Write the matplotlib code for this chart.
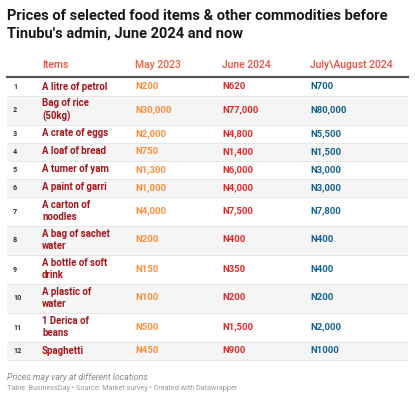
import matplotlib
matplotlib.use("Agg")
import matplotlib.pyplot as plt
from matplotlib.patches import Rectangle

title = "Prices of selected food items & other commodities before\nTinubu's admin, June 2024 and now"
headers = ["Items", "May 2023", "June 2024", "July\\August 2024"]
row_nums = ["1", "2", "3", "4", "5", "6", "7", "8", "9", "10", "11", "12"]
items = ["A litre of petrol", "Bag of rice\n(50kg)", "A crate of eggs", "A loaf of bread",
         "A tumer of yam", "A paint of garri", "A carton of\nnoodles", "A bag of sachet\nwater",
         "A bottle of soft\ndrink", "A plastic of\nwater", "1 Derica of\nbeans", "Spaghetti"]
may_2023 = ["N200", "N30,000", "N2,000", "N750", "N1,300", "N1,000", "N4,000", "N200",
            "N150", "N100", "N500", "N450"]
june_2024 = ["N620", "N77,000", "N4,800", "N1,400", "N6,000", "N4,000", "N7,500", "N400",
             "N350", "N200", "N1,500", "N900"]
jul_aug_2024 = ["N700", "N80,000", "N5,500", "N1,500", "N3,000", "N3,000", "N7,800", "N400",
                "N400", "N200", "N2,000", "N1000"]
note = "Prices may vary at different locations"
source = "Table: BusinessDay \u2022 Source: Market survey \u2022 Created with Datawrapper"

W, H = 415, 400
fig = plt.figure(figsize=(W / 100, H / 100), dpi=100)
ax = fig.add_axes([0, 0, 1, 1])
ax.set_xlim(0, W)
ax.set_ylim(H, 0)
ax.axis("off")

FONT = "Roboto"
ax.text(7, 9, title, fontsize=10.5, fontweight="bold", family=FONT, color="#181818",
        va="top", ha="left", linespacing=1.32)

col_x = [42, 135, 222, 310]
hdr_colors = ["#ee4c42", "#f2603c", "#ee4c42", "#ee4c42"]
for x, h, c in zip(col_x, headers, hdr_colors):
    ax.text(x, 65, h, fontsize=7.5, family=FONT, fontweight="medium", color=c,
            va="center", ha="left")

left, right = 7, 408
y = 77.5
single_h, double_h = 18, 29
for i in range(len(items)):
    nlines = items[i].count("\n") + 1
    rh = single_h if nlines == 1 else double_h
    if i % 2 == 1:
        ax.add_patch(Rectangle((left, y), right - left, rh, facecolor="#f5f5f5", edgecolor="none", zorder=0))
    ax.plot([left, right], [y + rh, y + rh], color="#e3e3e3", lw=0.6, zorder=1)
    cy = y + rh / 2
    ax.text(13, cy + 0.5, row_nums[i], fontsize=5.2, fontweight="bold", family=FONT,
            color="#333333", va="center", ha="left")
    ax.text(col_x[0], cy, items[i], fontsize=6.9, fontweight="bold", family=FONT,
            color="#a3151b", va="center", ha="left", linespacing=1.3)
    ax.text(col_x[1], cy, may_2023[i], fontsize=6.8, fontweight="bold", family=FONT,
            color="#fd8d3c", va="center", ha="left")
    ax.text(col_x[2], cy, june_2024[i], fontsize=6.8, fontweight="bold", family=FONT,
            color="#e0292a", va="center", ha="left")
    ax.text(col_x[3], cy, jul_aug_2024[i], fontsize=6.8, fontweight="bold", family=FONT,
            color="#13628f", va="center", ha="left")
    y += rh

ax.plot([left, right], [77, 77], color="#555555", lw=1.6, zorder=2)

ax.text(7, 377, note, fontsize=6.3, style="italic", family=FONT, color="#888888",
        va="center", ha="left")
ax.text(7, 389, source, fontsize=5.2, family=FONT, color="#999999",
        va="center", ha="left")

fig.savefig("out.png", dpi=100)
